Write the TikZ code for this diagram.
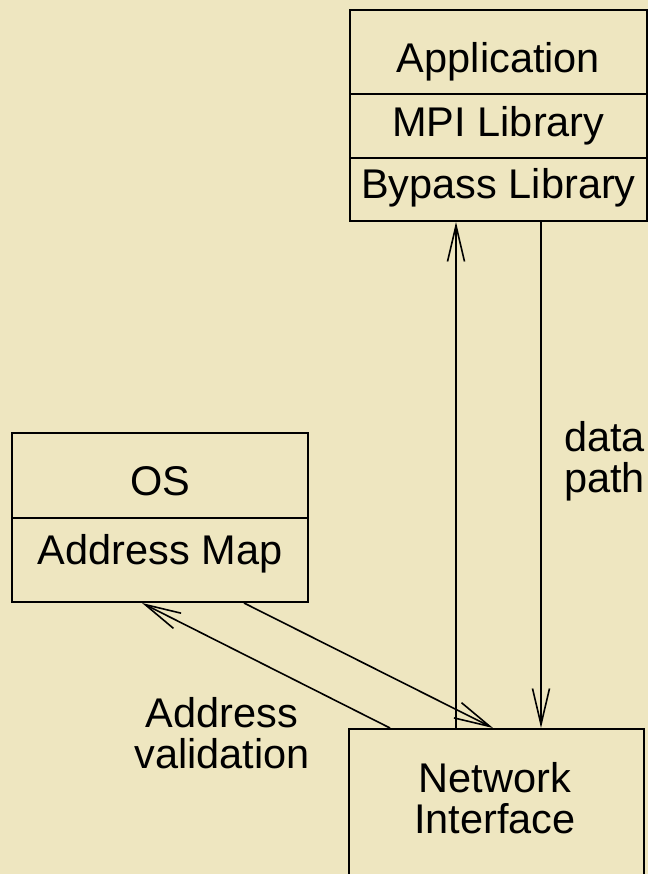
\documentclass[tikz,border=0pt]{standalone}
\usepackage{fontspec}
\setmainfont{Liberation Sans}
\usetikzlibrary{arrows.meta}
\definecolor{paper}{RGB}{238,230,192}
\begin{document}
\begin{tikzpicture}[x=1pt,y=-1pt,
  box/.style={draw, line width=2pt, inner sep=0pt,
    font=\fontsize{41.5}{41}\selectfont},
  flow/.style={line width=1.6pt,
    -{Straight Barb[length=36pt,width=17pt,line width=1.6pt]}},
  lbl/.style={font=\fontsize{41.5}{41}\selectfont, align=center, inner sep=0pt}
]
\fill[paper] (0,0) rectangle (648,874);
\useasboundingbox (0,0) rectangle (648,874);
\clip (0,0) rectangle (648,874);

% software stack on the host
\node[box, minimum width=297pt, minimum height=84pt, text height=42pt, text depth=0pt] (app) at (498.5,52) {Application};
\node[box, minimum width=297pt, minimum height=64pt, text height=30pt, text depth=8pt] (mpi) at (498.5,126) {MPI Library};
\node[box, minimum width=297pt, minimum height=63pt, text height=30pt, text depth=11pt] (byp) at (498.5,189.5) {Bypass Library};

% operating system
\node[box, minimum width=296pt, minimum height=85pt, text height=39pt, text depth=0pt] (os) at (160,475.5) {OS};
\node[box, minimum width=296pt, minimum height=84pt, text height=30pt, text depth=22pt] (amap) at (160,560) {Address Map};

% network interface (runs off the bottom edge)
\node[box, minimum width=295pt, minimum height=191pt] (ni) at (496.5,824.5) {};
\node[lbl] (nitext) at (495,798) {Network\\Interface};

% labels
\node[lbl] (valtext) at (222,733.5) {Address\\validation};
\node[lbl, align=left, anchor=west] (datatext) at (564,461) {data\\path};

% connector positions
\coordinate (upx) at (456,0);
\coordinate (dnx) at (541,0);
\coordinate (osout) at (244,0);
\coordinate (niin) at (493,0);
\coordinate (niout) at (390,0);
\coordinate (osin) at (142,0);

\draw[flow] (ni.north -| upx) -- (byp.south -| upx);
\draw[flow] (byp.south -| dnx) -- (ni.north -| dnx);
\draw[flow] (amap.south -| osout) -- (ni.north -| niin);
\draw[flow] (ni.north -| niout) -- (amap.south -| osin);
\end{tikzpicture}
\end{document}
